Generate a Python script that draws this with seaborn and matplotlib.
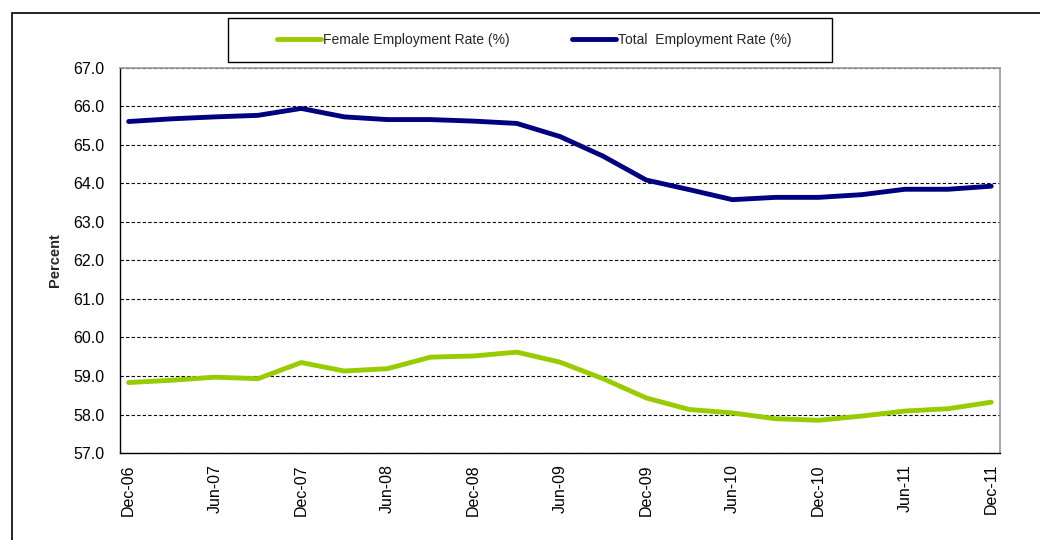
import numpy as np
import pandas as pd
import seaborn as sns
import matplotlib.pyplot as plt
from matplotlib.patches import Rectangle

quarters = ["Dec-06", "Mar-07", "Jun-07", "Sep-07", "Dec-07", "Mar-08", "Jun-08",
            "Sep-08", "Dec-08", "Mar-09", "Jun-09", "Sep-09", "Dec-09", "Mar-10",
            "Jun-10", "Sep-10", "Dec-10", "Mar-11", "Jun-11", "Sep-11", "Dec-11"]

female_rate = [58.83, 58.89, 58.97, 58.93, 59.35, 59.13, 59.19, 59.49, 59.52, 59.62,
               59.36, 58.93, 58.43, 58.13, 58.04, 57.89, 57.85, 57.96, 58.09, 58.15, 58.32]

total_rate = [65.61, 65.68, 65.73, 65.77, 65.95, 65.73, 65.66, 65.66, 65.62, 65.56,
              65.22, 64.71, 64.09, 63.84, 63.58, 63.64, 63.64, 63.71, 63.85, 63.85, 63.93]

female_label = "Female Employment Rate (%)"
total_label = "Total  Employment Rate (%)"

sns.set_style("white")
plt.rcParams["font.family"] = ["Liberation Sans", "DejaVu Sans"]

df = pd.DataFrame({
    "idx": list(range(len(quarters))) * 2,
    "rate": female_rate + total_rate,
    "series": [female_label] * len(quarters) + [total_label] * len(quarters),
})

fig = plt.figure(figsize=(10.4, 5.4), dpi=100)
ax = fig.add_axes([0.1154, 0.1611, 0.846, 0.713])

sns.lineplot(data=df, x="idx", y="rate", hue="series",
             palette={female_label: "#99cc00", total_label: "#000080"},
             linewidth=3.5, ax=ax, legend=False)

yt = np.arange(57, 67.1, 1)
ax.set_ylim(57, 67)
ax.set_yticks(yt)
ax.set_yticklabels([f"{v:.1f}" for v in yt], fontsize=11.5)
ax.set_xlim(-0.2, 20.2)
ax.set_xticks(range(0, len(quarters), 2))
ax.set_xticklabels(quarters[::2], rotation=90, fontsize=11.5)
ax.set_xlabel("")
ax.set_ylabel("Percent", fontsize=10.5, fontweight="bold", labelpad=8)

ax.grid(axis="y", color="black", linestyle=(0, (3, 2)), linewidth=0.8)
ax.tick_params(axis="both", direction="out", length=5, width=0.8, colors="black")
ax.tick_params(axis="x", pad=3)
ax.tick_params(axis="y", pad=6)
for s in ["left", "bottom"]:
    ax.spines[s].set_color("black")
    ax.spines[s].set_linewidth(1)
for s in ["right", "top"]:
    ax.spines[s].set_color("#999999")
    ax.spines[s].set_linewidth(1.2)

handles = [plt.Line2D([], [], color="#99cc00", lw=3.5),
           plt.Line2D([], [], color="#000080", lw=3.5)]
fig.legend(handles, [female_label, total_label], loc="center",
           bbox_to_anchor=(534 / 1040, 1 - 40 / 540), ncol=2,
           fontsize=10, frameon=False, handlelength=3.2,
           handletextpad=0.1, columnspacing=4.5, borderaxespad=0)

# legend box
fig.patches.append(Rectangle((228 / 1040, 1 - 62 / 540), 604 / 1040, 44 / 540,
                             transform=fig.transFigure, fill=False,
                             edgecolor="black", linewidth=1))
# outer chart border
fig.patches.append(Rectangle((12 / 1040, -0.05), 1.0, 1.05 - 13 / 540,
                             transform=fig.transFigure, fill=False,
                             edgecolor="black", linewidth=1.2, clip_on=False))

fig.savefig("out.png", dpi=100)
